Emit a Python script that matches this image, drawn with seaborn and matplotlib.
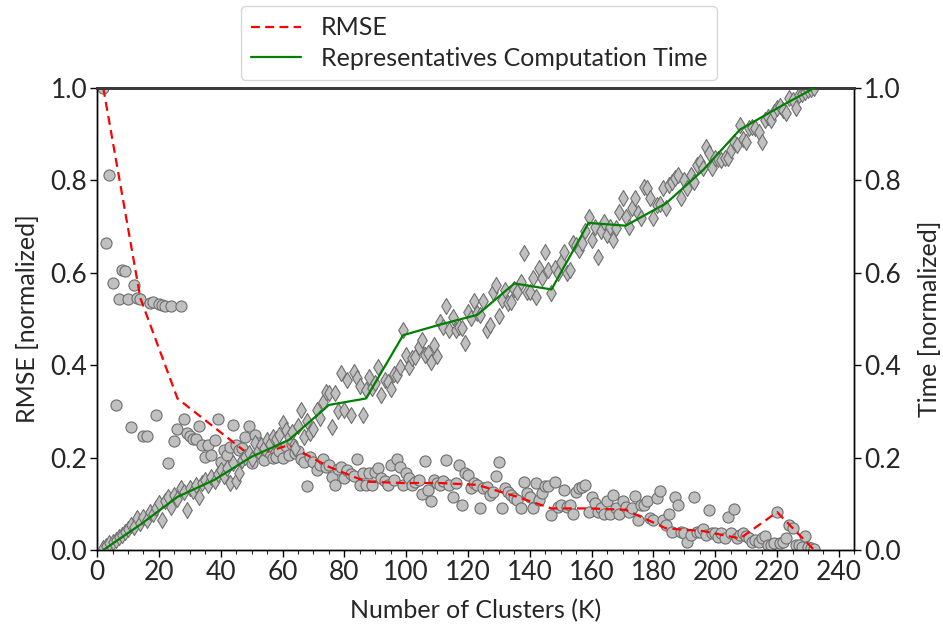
import matplotlib
matplotlib.use("Agg")
import matplotlib.pyplot as plt
import pandas as pd
import seaborn as sns
from matplotlib.ticker import MultipleLocator, FormatStrFormatter

# Number of clusters for every individual run (K = 2 ... 232)
k_points = list(range(2, 233))

# Normalized RMSE of each run
rmse_points = [
    1.000, 0.665, 0.812, 0.579, 0.314, 0.543, 0.606, 0.605, 0.543, 0.267,
    0.574, 0.545, 0.543, 0.247, 0.247, 0.535, 0.537, 0.292, 0.532, 0.531,
    0.528, 0.189, 0.529, 0.237, 0.261, 0.529, 0.284, 0.253, 0.247, 0.240,
    0.240, 0.268, 0.227, 0.202, 0.227, 0.206, 0.238, 0.284, 0.191, 0.216,
    0.205, 0.224, 0.271, 0.227, 0.216, 0.220, 0.245, 0.268, 0.188, 0.249,
    0.231, 0.215, 0.195, 0.225, 0.210, 0.200, 0.202, 0.215, 0.200, 0.225,
    0.205, 0.230, 0.209, 0.215, 0.198, 0.190, 0.139, 0.202, 0.190, 0.173,
    0.185, 0.198, 0.180, 0.184, 0.159, 0.141, 0.175, 0.179, 0.155, 0.173,
    0.165, 0.160, 0.198, 0.141, 0.166, 0.141, 0.166, 0.141, 0.169, 0.177,
    0.155, 0.150, 0.141, 0.184, 0.151, 0.196, 0.180, 0.141, 0.166, 0.155,
    0.141, 0.148, 0.151, 0.121, 0.193, 0.130, 0.107, 0.151, 0.144, 0.141,
    0.150, 0.195, 0.141, 0.115, 0.144, 0.184, 0.097, 0.166, 0.162, 0.134,
    0.144, 0.140, 0.090, 0.134, 0.136, 0.119, 0.125, 0.160, 0.190, 0.090,
    0.134, 0.126, 0.119, 0.112, 0.108, 0.090, 0.147, 0.123, 0.115, 0.090,
    0.144, 0.108, 0.123, 0.139, 0.139, 0.076, 0.148, 0.094, 0.097, 0.130,
    0.094, 0.097, 0.079, 0.126, 0.134, 0.137, 0.141, 0.083, 0.115, 0.101,
    0.083, 0.090, 0.079, 0.105, 0.079, 0.119, 0.090, 0.079, 0.105, 0.094,
    0.083, 0.090, 0.117, 0.066, 0.097, 0.097, 0.105, 0.069, 0.065, 0.112,
    0.128, 0.065, 0.055, 0.079, 0.040, 0.115, 0.097, 0.040, 0.036, 0.018,
    0.032, 0.114, 0.040, 0.040, 0.045, 0.032, 0.087, 0.036, 0.036, 0.029,
    0.036, 0.025, 0.072, 0.036, 0.088, 0.025, 0.032, 0.036, 0.030, 0.025,
    0.018, 0.022, 0.018, 0.025, 0.030, 0.011, 0.011, 0.015, 0.082, 0.015,
    0.018, 0.025, 0.054, 0.047, 0.011, 0.011, 0.007, 0.030, 0.007, 0.004,
    0.002,
]

# Normalized representatives computation time of each run
time_points = [
    0.004, 0.008, 0.015, 0.018, 0.022, 0.028, 0.032, 0.040, 0.045, 0.054,
    0.050, 0.069, 0.058, 0.072, 0.065, 0.083, 0.078, 0.090, 0.101, 0.065,
    0.105, 0.115, 0.094, 0.120, 0.110, 0.134, 0.125, 0.087, 0.134, 0.128,
    0.140, 0.115, 0.145, 0.152, 0.140, 0.159, 0.150, 0.165, 0.173, 0.160,
    0.178, 0.144, 0.188, 0.150, 0.166, 0.195, 0.202, 0.210, 0.198, 0.231,
    0.215, 0.228, 0.220, 0.238, 0.230, 0.245, 0.240, 0.250, 0.274, 0.260,
    0.245, 0.255, 0.220, 0.268, 0.303, 0.245, 0.280, 0.253, 0.263, 0.303,
    0.285, 0.320, 0.343, 0.339, 0.267, 0.339, 0.300, 0.384, 0.303, 0.368,
    0.292, 0.386, 0.372, 0.355, 0.292, 0.346, 0.375, 0.350, 0.361, 0.397,
    0.335, 0.368, 0.364, 0.348, 0.382, 0.379, 0.397, 0.476, 0.422, 0.397,
    0.415, 0.418, 0.440, 0.455, 0.422, 0.426, 0.408, 0.444, 0.420, 0.494,
    0.483, 0.528, 0.476, 0.504, 0.476, 0.483, 0.480, 0.449, 0.516, 0.502,
    0.540, 0.512, 0.509, 0.540, 0.476, 0.487, 0.559, 0.574, 0.506, 0.541,
    0.563, 0.534, 0.537, 0.566, 0.559, 0.580, 0.642, 0.559, 0.559, 0.588,
    0.548, 0.610, 0.588, 0.644, 0.606, 0.556, 0.610, 0.600, 0.624, 0.646,
    0.600, 0.606, 0.664, 0.660, 0.649, 0.664, 0.690, 0.721, 0.671, 0.700,
    0.635, 0.690, 0.711, 0.682, 0.700, 0.671, 0.696, 0.732, 0.763, 0.721,
    0.700, 0.740, 0.761, 0.729, 0.718, 0.786, 0.783, 0.761, 0.718, 0.747,
    0.750, 0.783, 0.740, 0.790, 0.797, 0.805, 0.812, 0.761, 0.801, 0.783,
    0.812, 0.797, 0.833, 0.840, 0.826, 0.873, 0.859, 0.826, 0.848, 0.846,
    0.844, 0.848, 0.848, 0.866, 0.884, 0.877, 0.920, 0.889, 0.884, 0.913,
    0.916, 0.913, 0.905, 0.884, 0.931, 0.938, 0.931, 0.949, 0.956, 0.960,
    0.952, 0.945, 0.978, 0.974, 0.956, 0.985, 0.988, 0.992, 0.996, 0.998,
    1.000,
]

# Summary curves evaluated at selected cluster counts
k_curve = [2, 14, 26, 38, 50, 62, 75, 87, 99, 111, 123, 135, 147, 159, 171,
           184, 196, 208, 220, 232]
rmse_curve = [1.000, 0.545, 0.328, 0.265, 0.202, 0.227, 0.180, 0.148, 0.145,
              0.145, 0.141, 0.117, 0.090, 0.090, 0.087, 0.047, 0.041, 0.025,
              0.082, 0.000]
time_curve = [0.000, 0.055, 0.115, 0.152, 0.202, 0.238, 0.314, 0.328, 0.465,
              0.488, 0.509, 0.577, 0.564, 0.708, 0.702, 0.750, 0.822, 0.910,
              0.956, 1.000]

legend_labels = ["RMSE", "Representatives Computation Time"]
x_label = "Number of Clusters (K)"
y_label_left = "RMSE [normalized]"
y_label_right = "Time [normalized]"

sns.set_style("ticks")
plt.rcParams["font.family"] = ["Lato", "DejaVu Sans"]

pts = pd.DataFrame({"K": k_points, "rmse": rmse_points, "time": time_points})
curve = pd.DataFrame({"K": k_curve, "rmse": rmse_curve, "time": time_curve})

fig = plt.figure(figsize=(9.43, 6.26), dpi=100)
ax1 = fig.add_axes([0.103, 0.1214, 0.803, 0.738])
ax2 = ax1.twinx()

face = "#c0c0c0"
edge = "#6e6e6e"

sns.scatterplot(data=pts, x="K", y="rmse", ax=ax1, marker="o", s=64,
                color=face, edgecolor=edge, linewidth=0.8, zorder=2,
                legend=False)
sns.lineplot(data=curve, x="K", y="rmse", ax=ax1, color="red",
             linestyle=(0, (4, 2.4)), linewidth=1.6, zorder=3, legend=False)

sns.scatterplot(data=pts, x="K", y="time", ax=ax2, marker="d", s=66,
                color=face, edgecolor=edge, linewidth=0.8, zorder=2,
                legend=False)
sns.lineplot(data=curve, x="K", y="time", ax=ax2, color="green",
             linewidth=1.6, zorder=3, legend=False)

ax1.set_xlim(0, 245)
ax1.set_ylim(0, 1)
ax2.set_ylim(0, 1)

ax1.xaxis.set_major_locator(MultipleLocator(20))
ax1.xaxis.set_minor_locator(MultipleLocator(5))
for ax in (ax1, ax2):
    ax.yaxis.set_major_locator(MultipleLocator(0.2))
    ax.yaxis.set_major_formatter(FormatStrFormatter("%.1f"))
    ax.tick_params(axis="both", which="major", labelsize=19, length=5,
                   width=1, direction="out", color="black", pad=2)
    ax.tick_params(axis="x", which="minor", length=3, width=0.8)
    for side in ("left", "right", "bottom"):
        ax.spines[side].set_color("black")
        ax.spines[side].set_linewidth(1.0)
    ax.spines["top"].set_color("#3a3a3a")
    ax.spines["top"].set_linewidth(2.0)

ax1.set_xlabel(x_label, fontsize=18, labelpad=10)
ax1.set_ylabel(y_label_left, fontsize=18, labelpad=8)
ax2.set_ylabel(y_label_right, fontsize=18, labelpad=12)

fig.legend(handles=[ax1.lines[0], ax2.lines[0]], labels=legend_labels,
           loc="upper center", bbox_to_anchor=(0.508, 0.99), fontsize=18,
           frameon=True, handlelength=2.0, borderpad=0.4, labelspacing=0.3,
           borderaxespad=0.0)

fig.savefig("out.png", dpi=100, facecolor="white")
